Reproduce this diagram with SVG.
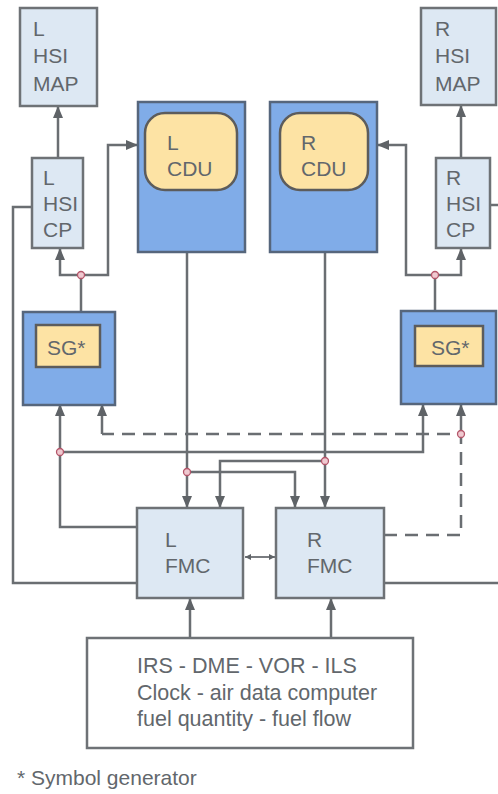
<svg xmlns="http://www.w3.org/2000/svg" width="498" height="794" viewBox="0 0 498 794">
<style>
.lt{fill:#dde8f3;stroke:#6e7276;stroke-width:2.5}
.bl{fill:#80acE8;stroke:#56667c;stroke-width:2.5}
.ye{fill:#fde3a4;stroke:#5c5c5c;stroke-width:2.5}
.wh{fill:#ffffff;stroke:#6e7276;stroke-width:2.5}
text{font-family:"Liberation Sans",Arial,sans-serif;font-size:21px;fill:#62676c}
.info{font-size:21.5px}
.ln{fill:none;stroke:#6a6e72;stroke-width:2.5}
.ar{marker-end:url(#ah)}
.ds{stroke-dasharray:13 8}
.jn{fill:#efc9d0;stroke:#b4566a;stroke-width:1.3}
</style>
<defs>
<marker id="ah" markerUnits="userSpaceOnUse" markerWidth="12" markerHeight="10" refX="11" refY="5" orient="auto">
<path d="M0,0 L12,5 L0,10 z" fill="#5f6367"/>
</marker>
<marker id="sa" markerUnits="userSpaceOnUse" markerWidth="6" markerHeight="6" refX="6" refY="3" orient="auto-start-reverse">
<path d="M0,0 L6,3 L0,6 z" fill="#5f6367"/>
</marker>
</defs>

<g id="connectors">
<path class="ln ar" d="M58,158 V107"/>
<path class="ln" d="M81,325 V275"/>
<path class="ln ar" d="M81,275 H60 V249"/>
<path class="ln ar" d="M81,275 H108 V145 H137"/>
<path class="ln" d="M32,207 H13 V583 H137"/>
<path class="ln ar" d="M187,252 V507"/>
<path class="ln ar" d="M187,472 H295 V507"/>
<path class="ln ar" d="M325,252 V507"/>
<path class="ln ar" d="M325,461 H220 V507"/>
<path class="ln ar" d="M137,527 H60 V405"/>
<path class="ln ar" d="M60,452 H423 V405"/>
<path class="ln ds" d="M384,535 H461 V434 H102"/>
<path class="ln ar" d="M461,436 V405"/>
<path class="ln ar" d="M102,434 V405"/>
<path class="ln" d="M435,326 V275"/>
<path class="ln ar" d="M435,275 H461 V249"/>
<path class="ln ar" d="M435,275 H406 V145 H378"/>
<path class="ln ar" d="M461,158 V106"/>
<path class="ln" d="M490,205 H498"/>
<path class="ln" d="M384,583 H498"/>
<path class="ln ar" d="M190,638 V599"/>
<path class="ln ar" d="M331,638 V599"/>
<path d="M245,557 H275" fill="none" stroke="#6a6e72" stroke-width="1.8" marker-start="url(#sa)" marker-end="url(#sa)"/>
<circle class="jn" cx="81" cy="275" r="3.5"/>
<circle class="jn" cx="435" cy="275" r="3.5"/>
<circle class="jn" cx="60" cy="452" r="3.5"/>
<circle class="jn" cx="187" cy="472" r="3.5"/>
<circle class="jn" cx="325" cy="461" r="3.5"/>
<circle class="jn" cx="461" cy="434" r="3.5"/>
</g>

<g id="l-hsi-map">
<rect class="lt" x="20" y="8" width="77" height="98"/>
<text x="33" y="36">L</text><text x="33" y="63">HSI</text><text x="33" y="91">MAP</text>
</g>
<g id="r-hsi-map">
<rect class="lt" x="421" y="8" width="75" height="97"/>
<text x="435" y="36">R</text><text x="435" y="63">HSI</text><text x="435" y="91">MAP</text>
</g>
<g id="l-hsi-cp">
<rect class="lt" x="32" y="158" width="51" height="90"/>
<text x="43" y="185">L</text><text x="43" y="211">HSI</text><text x="43" y="237">CP</text>
</g>
<g id="r-hsi-cp">
<rect class="lt" x="436" y="158" width="54" height="90"/>
<text x="446" y="185">R</text><text x="446" y="211">HSI</text><text x="446" y="237">CP</text>
</g>
<g id="l-cdu">
<rect class="bl" x="138" y="102" width="107" height="150"/>
<rect class="ye" x="145" y="113" width="92" height="77" rx="20"/>
<text x="167" y="150">L</text><text x="167" y="176">CDU</text>
</g>
<g id="r-cdu">
<rect class="bl" x="270" y="102" width="107" height="150"/>
<rect class="ye" x="280" y="113" width="88" height="77" rx="20"/>
<text x="301" y="150">R</text><text x="301" y="176">CDU</text>
</g>
<g id="l-sg">
<rect class="bl" x="23" y="312" width="92" height="93"/>
<rect class="ye" x="36" y="325" width="64" height="42"/>
<text x="47" y="355">SG*</text>
</g>
<g id="r-sg">
<rect class="bl" x="401" y="311" width="95" height="93"/>
<rect class="ye" x="415" y="326" width="68" height="40"/>
<text x="431" y="355">SG*</text>
</g>
<g id="l-fmc">
<rect class="lt" x="137" y="508" width="106" height="90"/>
<text x="165" y="547">L</text><text x="165" y="573">FMC</text>
</g>
<g id="r-fmc">
<rect class="lt" x="276" y="508" width="108" height="90"/>
<text x="307" y="547">R</text><text x="307" y="573">FMC</text>
</g>
<g id="sensors">
<rect class="wh" x="87" y="638" width="326" height="110"/>
<text class="info" x="137" y="673">IRS - DME - VOR - ILS</text>
<text class="info" x="137" y="700">Clock - air data computer</text>
<text class="info" x="137" y="726">fuel quantity - fuel flow</text>
</g>
<text x="17" y="785">* Symbol generator</text>
</svg>
